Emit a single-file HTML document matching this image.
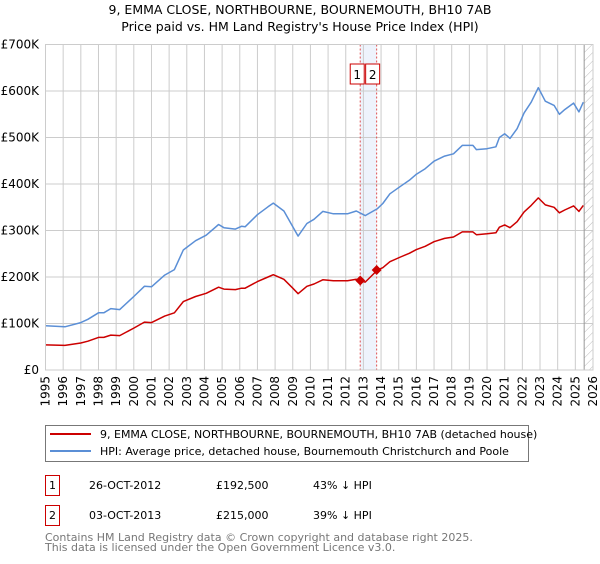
<!DOCTYPE html>
<html><head><meta charset="utf-8"><style>
body{margin:0;background:#fff;font-family:"DejaVu Sans","Liberation Sans",sans-serif;}
svg text{font-family:"DejaVu Sans","Liberation Sans",sans-serif;}
</style></head><body>
<svg id="c" width="600" height="560" xmlns="http://www.w3.org/2000/svg"></svg>
<script>
const years=[1995,1996.1,1997,1997.4,1998,1998.3,1998.7,1999.2,2000,2000.6,2001,2001.75,2002.3,2002.8,2003.5,2004.1,2004.8,2005.1,2005.75,2006.1,2006.3,2007,2007.6,2007.9,2008.5,2009,2009.3,2009.8,2010.2,2010.7,2011.3,2012.1,2012.6,2013.1,2013.8,2014.1,2014.5,2015.1,2015.6,2016,2016.5,2017,2017.6,2018.1,2018.6,2019.2,2019.4,2020,2020.5,2020.7,2021,2021.3,2021.7,2022.1,2022.5,2022.9,2023.3,2023.8,2024.1,2024.4,2024.9,2025.2,2025.45];
const hpi=[95,93,102,109,123,123,132,130,158,180,179,204,216,258,278,290,313,306,303,309,308,334,351,359,342,308,288,315,324,341,336,336,342,332,347,358,379,395,408,421,433,449,460,465,483,483,474,476,480,500,508,498,519,553,576,607,578,569,550,560,574,555,576];
const prop=[54,53,58,62,70,70,75,74,90,103,102,116,123,147,158,165,178,174,173,176,176,190,200,205,195,176,164,180,185,194,192,192,195,189,215,220,233,243,251,259,266,276,283,286,297,297,291,293,295,307,312,306,319,340,354,370,355,350,338,344,353,341,354];
const saleYears=[2012.82,2013.75];
const saleValues=[192.5,215];
const saleLabels=["1","2"];
const yTicks=[0,100,200,300,400,500,600,700];
const yTickLabels=["£0","£100K","£200K","£300K","£400K","£500K","£600K","£700K"];
const xTicks=[];for(let y=1995;y<=2026;y++)xTicks.push(y);
const X0=45.5,X1=593,Y0=370,Y1=44.5;
const xs=y=>X0+(y-1995)*(X1-X0)/31;
const ys=v=>Y0-v*(Y0-Y1)/700;
const svg=document.getElementById('c');const NS="http://www.w3.org/2000/svg";
function el(t,a,p){const e=document.createElementNS(NS,t);for(const k in a)e.setAttribute(k,a[k]);(p||svg).appendChild(e);return e;}
function tx(x,y,s,a){const e=el('text',Object.assign({x:x,y:y,'font-size':12,fill:'#000'},a||{}));e.textContent=s;return e;}
let t;
t=tx(300,14,"9, EMMA CLOSE, NORTHBOURNE, BOURNEMOUTH, BH10 7AB",{'text-anchor':'middle','font-size':12.5});


t=tx(300,31,"Price paid vs. HM Land Registry's House Price Index (HPI)",{'text-anchor':'middle','font-size':12.5});


let b=el('rect',{x:xs(saleYears[0]),y:Y1,width:xs(saleYears[1])-xs(saleYears[0]),height:Y0-Y1,fill:'#eef3fc'});


xTicks.forEach(y=>{const l=el('line',{x1:xs(y),x2:xs(y),y1:Y1,y2:Y0,stroke:'#cccccc','stroke-width':1});


const lb=tx(0,0,String(y),{'text-anchor':'end','transform':`translate(${xs(y)+4},376) rotate(-90)`});

});
yTicks.forEach((v,i)=>{const l=el('line',{x1:X0,x2:X1,y1:ys(v),y2:ys(v),stroke:'#cccccc','stroke-width':1});


const lb=tx(39,ys(v)+4,yTickLabels[i],{'text-anchor':'end'});

});
const defs=el('defs',{});
const pat=el('pattern',{id:'h',width:6,height:6,patternUnits:'userSpaceOnUse',patternTransform:'rotate(45)'},defs);
el('line',{x1:0,y1:0,x2:0,y2:6,stroke:'#bbb','stroke-width':1},pat);
b=el('rect',{x:xs(2025.5),y:Y1,width:X1-xs(2025.5),height:Y0-Y1,fill:'url(#h)'});


b=el('line',{x1:xs(2025.5),x2:xs(2025.5),y1:Y1,y2:Y0,stroke:'#999','stroke-width':1});


saleYears.forEach((y,i)=>{const l=el('line',{x1:xs(y),x2:xs(y),y1:Y1,y2:Y0,stroke:'#e05050','stroke-width':1,'stroke-dasharray':'2,2'});


const r=el('rect',{x:i?xs(y)-11:xs(y)-10,y:64,width:14,height:20,fill:'#fff',stroke:'#cc0000'});


const lt=tx(i?xs(y)-4:xs(y)-3,79,saleLabels[i],{'text-anchor':'middle'});

});
function path(vals,col,name){let d='';years.forEach((y,i)=>{d+=(i?'L':'M')+xs(y).toFixed(1)+','+ys(vals[i]).toFixed(1);});
const p=el('path',{d:d,fill:'none',stroke:col,'stroke-width':1.5,'stroke-linejoin':'round'});

}
path(hpi,'#5b8fd6','hpi-line');
path(prop,'#cc0000','property-price-line');
saleYears.forEach((y,i)=>{const c=el('path',{d:`M${xs(y)},${ys(saleValues[i])-5}l5,5l-5,5l-5,-5z`,fill:'#cc0000'});

});
b=el('rect',{x:X0,y:Y1,width:X1-X0,height:Y0-Y1,fill:'none',stroke:'#cccccc'});


const lg=el('g',{});


el('rect',{x:45.5,y:425.5,width:483,height:36,fill:'#fff',stroke:'#777'},lg);
let li=el('line',{x1:50,x2:91,y1:434,y2:434,stroke:'#cc0000','stroke-width':2},lg);


t=tx(100,438,"9, EMMA CLOSE, NORTHBOURNE, BOURNEMOUTH, BH10 7AB (detached house)",{'font-size':11});lg.appendChild(t);


li=el('line',{x1:50,x2:91,y1:451,y2:451,stroke:'#5b8fd6','stroke-width':2},lg);


t=tx(100,455,"HPI: Average price, detached house, Bournemouth Christchurch and Poole",{'font-size':11});lg.appendChild(t);


const rows=[["1","26-OCT-2012","£192,500","43% ↓ HPI",475],["2","03-OCT-2013","£215,000","39% ↓ HPI",505]];
rows.forEach(r=>{const bx=el('rect',{x:45.5,y:r[4]+0.5,width:14,height:20,fill:'#fff',stroke:'#cc0000'});


let a=tx(52.5,r[4]+14,r[0],{'text-anchor':'middle','font-size':11});


a=tx(89,r[4]+14,r[1],{'font-size':11});


a=tx(216,r[4]+14,r[2],{'font-size':11});


a=tx(313,r[4]+14,r[3],{'font-size':11});

});
t=tx(45,541,"Contains HM Land Registry data © Crown copyright and database right 2025.",{'font-size':11,fill:'#777'});


t=tx(45,551,"This data is licensed under the Open Government Licence v3.0.",{'font-size':11,fill:'#777'});


</script>
</body></html>
